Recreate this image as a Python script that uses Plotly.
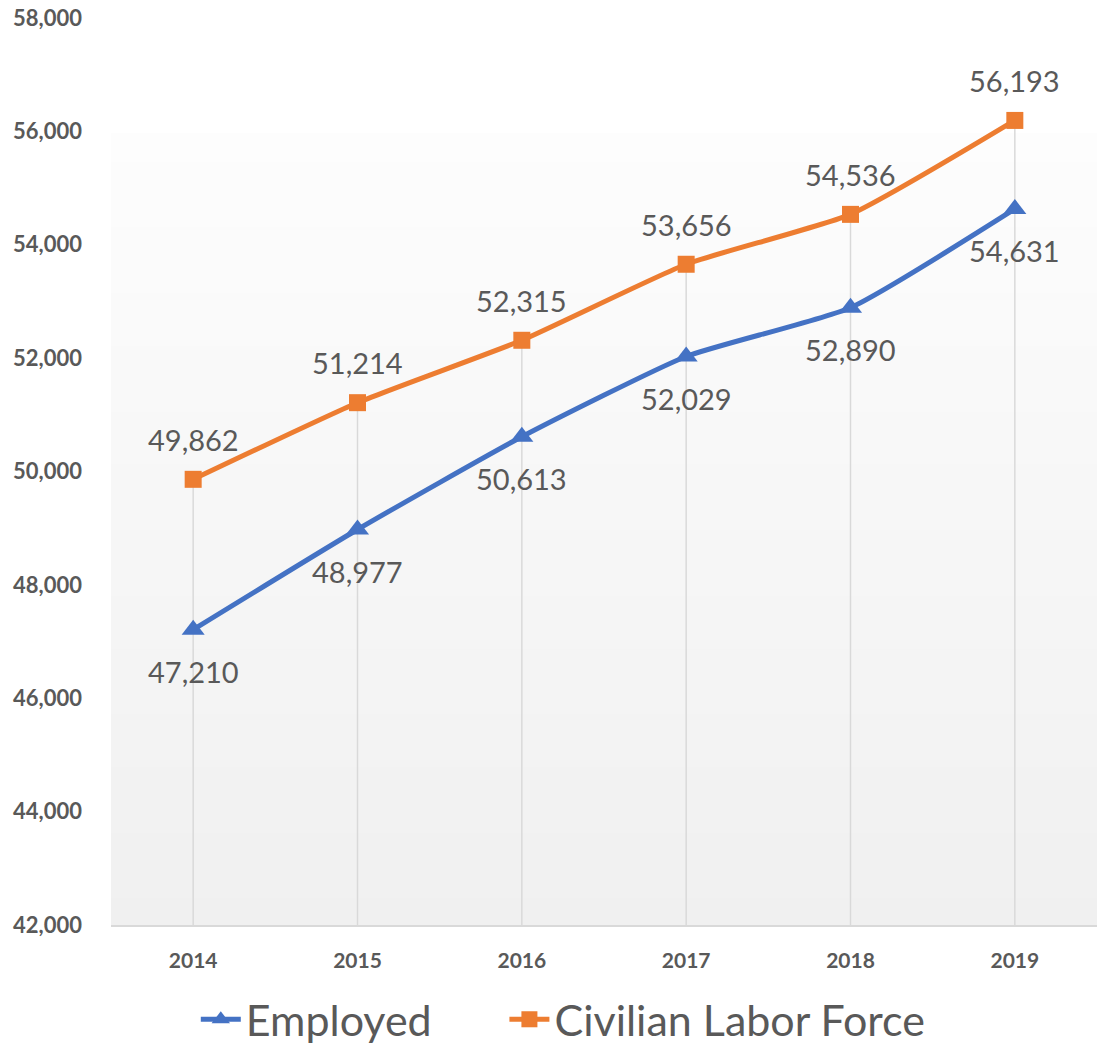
import plotly.graph_objects as go

years = ["2014", "2015", "2016", "2017", "2018", "2019"]
employed = [47210, 48977, 50613, 52029, 52890, 54631]
labor_force = [49862, 51214, 52315, 53656, 54536, 56193]
y_ticks = [42000, 44000, 46000, 48000, 50000, 52000, 54000, 56000, 58000]

Y_MIN, Y_MAX = 42000, 58000
FONT = "Lato"
GRAY = "#595959"
BLUE = "#4472C4"
ORANGE = "#ED7D31"

fig = go.Figure()

# drop lines from the highest point down to the category axis
dx, dy = [], []
for yr, a, b in zip(years, employed, labor_force):
    dx += [yr, yr, None]
    dy += [max(a, b), Y_MIN, None]
fig.add_trace(go.Scatter(x=dx, y=dy, mode="lines", line=dict(color="#D9D9D9", width=1.5),
                         hoverinfo="skip", showlegend=False))

fig.add_trace(go.Scatter(
    x=years, y=employed, name="Employed", mode="lines+markers", legend="legend",
    line=dict(color=BLUE, width=5, shape="spline", smoothing=0.5),
    marker=dict(symbol="triangle-up", size=20, color=BLUE),
))
fig.add_trace(go.Scatter(
    x=years, y=labor_force, name="Civilian Labor Force", mode="lines+markers", legend="legend2",
    line=dict(color=ORANGE, width=5, shape="spline", smoothing=0.5),
    marker=dict(symbol="square", size=17, color=ORANGE),
))

annotations = []
for i, v in enumerate(employed):
    annotations.append(dict(x=i, y=v, xref="x", yref="y", text=f"{v:,}", showarrow=False,
                            yshift=-42, font=dict(family=FONT, size=29, color=GRAY)))
for i, v in enumerate(labor_force):
    annotations.append(dict(x=i, y=v, xref="x", yref="y", text=f"{v:,}", showarrow=False,
                            yshift=40, font=dict(family=FONT, size=29, color=GRAY)))

# gradient plot-area background
shapes = []
top = 0.871
n = 60
c0, c1 = 253, 240
for i in range(n):
    y0 = top * i / n
    y1 = top * (i + 1) / n
    t = (i + 0.5) / n
    v = round(c1 + (c0 - c1) * t)
    shapes.append(dict(type="rect", xref="x domain", yref="y domain", x0=0, x1=1, y0=y0, y1=y1 + 0.002,
                       fillcolor=f"rgb({v},{v},{v})", line=dict(width=0), layer="below"))

legend_style = dict(orientation="h", xanchor="left", y=-0.104, yanchor="middle",
                    font=dict(family=FONT, size=43, color=GRAY), itemwidth=40,
                    bgcolor="rgba(0,0,0,0)")

fig.update_layout(
    width=1103, height=1047,
    margin=dict(l=111, r=6, t=18, b=122, autoexpand=False),
    paper_bgcolor="white", plot_bgcolor="white",
    shapes=shapes, annotations=annotations,
    showlegend=True,
    legend=dict(x=0.086, **legend_style),
    legend2=dict(x=0.399, **legend_style),
    font=dict(family=FONT, color=GRAY),
)
fig.update_xaxes(type="category", categoryorder="array", categoryarray=years,
                 range=[-0.5, len(years) - 0.5],
                 showgrid=False, zeroline=False, showline=True,
                 linecolor="#D9D9D9", linewidth=1.5, ticks="", automargin=False,
                 tickfont=dict(family=FONT, size=21, color=GRAY, weight="bold"),
                 ticklabelstandoff=16)
fig.update_yaxes(range=[Y_MIN, Y_MAX], tickvals=y_ticks, ticktext=[f"{v:,}" for v in y_ticks],
                 showgrid=False, zeroline=False, showline=False, ticks="", automargin=False,
                 tickfont=dict(family=FONT, size=22, color=GRAY, weight="bold"),
                 ticklabelstandoff=28)

fig.write_html("out.html")
